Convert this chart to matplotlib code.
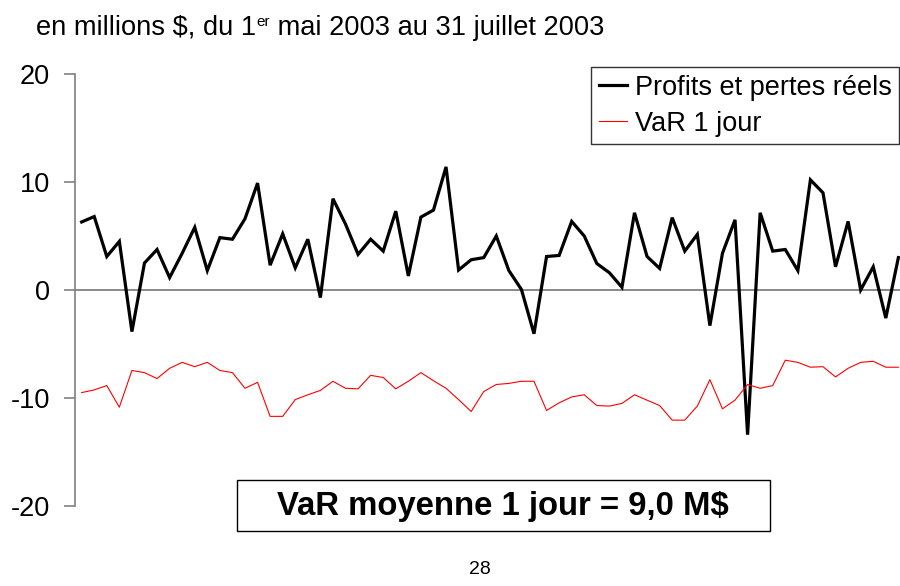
import matplotlib
matplotlib.use("Agg")
import matplotlib.pyplot as plt
from matplotlib.patches import Rectangle
import numpy as np

plt.rcParams['font.family'] = ['Liberation Sans', 'DejaVu Sans']

# Daily actual profits and losses (M$), 1 May 2003 - 31 July 2003
pnl = [6.3, 6.8, 3.1, 4.5, -3.85, 2.5, 3.75, 1.15, 3.4, 5.8, 1.8, 4.85, 4.7, 6.6, 9.9,
       2.3, 5.2, 2.05, 4.7, -0.7, 8.45, 6.1, 3.3, 4.7, 3.6, 7.3, 1.3, 6.75, 7.4, 11.4,
       1.85, 2.8, 3.0, 5.0, 1.8, 0.05, -4.05, 3.1, 3.2, 6.35, 5.0, 2.45, 1.6, 0.25,
       7.15, 3.1, 2.0, 6.7, 3.6, 5.15, -3.3, 3.4, 6.5, -13.4, 7.15, 3.6, 3.75, 1.8,
       10.2, 9.0, 2.15, 6.35, 0.0, 2.15, -2.6, 3.0]
# Daily 1-day VaR (M$)
var1 = [-9.5, -9.25, -8.85, -10.85, -7.45, -7.65, -8.2, -7.25, -6.7, -7.1, -6.7, -7.45,
        -7.65, -9.1, -8.55, -11.7, -11.7, -10.15, -9.7, -9.3, -8.45, -9.1, -9.15, -7.9,
        -8.1, -9.15, -8.45, -7.65, -8.4, -9.1, -10.15, -11.25, -9.4, -8.75, -8.65,
        -8.45, -8.45, -11.15, -10.45, -9.9, -9.7, -10.7, -10.75, -10.5, -9.7, -10.2,
        -10.7, -12.05, -12.05, -10.75, -8.3, -11.0, -10.2, -8.75, -9.1, -8.85, -6.5,
        -6.7, -7.15, -7.1, -8.05, -7.25, -6.7, -6.6, -7.15, -7.15]

yticks = [-20, -10, 0, 10, 20]
title_parts = ["en millions $, du 1", "er", " mai 2003 au 31 juillet 2003"]
label_pnl = "Profits et pertes réels"
label_var = "VaR 1 jour"
box_text = "VaR moyenne 1 jour = 9,0 M$"
page_no = "28"

W, H = 900, 586
fig = plt.figure(figsize=(W / 100, H / 100), dpi=100)
ax = fig.add_axes([75 / W, (H - 506) / H, (900 - 75) / W, (506 - 74) / H])

x = np.arange(len(pnl))
ax.plot(x, pnl, color='black', lw=2.3, label=label_pnl, solid_joinstyle='miter')
ax.plot(x, var1, color='#ff0000', lw=0.8, label=label_var)
ax.axhline(0, color='#808080', lw=1.3, zorder=0)

ax.set_xlim(-0.53, 65.13)
ax.set_ylim(-20, 20)
ax.set_yticks(yticks)
ax.set_yticklabels([str(t) for t in yticks])
ax.tick_params(axis='y', direction='out', length=8, width=1.2, color='#808080',
               labelsize=19.5, pad=10)
ax.set_xticks([])
for s in ['top', 'right', 'bottom']:
    ax.spines[s].set_visible(False)
ax.spines['left'].set_color('#808080')
ax.spines['left'].set_linewidth(1.2)

leg = ax.legend(loc='upper right', bbox_to_anchor=(1.0 - 1 / 825, 1.0 + 7 / 432),
                fontsize=19.5, frameon=True, fancybox=False, handlelength=1.05,
                handletextpad=0.28, borderpad=0.28, labelspacing=0.38,
                borderaxespad=0.0)
leg.get_frame().set_edgecolor('black')
leg.get_frame().set_linewidth(1.0)

# Title built from pieces so that "er" is a small superscript
renderer = fig.canvas.get_renderer()
base_y = 1 - 35 / H
xpos = 36
sizes = [19.6, 11, 19.6]
raises = [0, 9, 0]
for part, fs, rz in zip(title_parts, sizes, raises):
    t = fig.text(xpos / W, base_y + rz / H, part, fontsize=fs, ha='left',
                 va='baseline')
    bb = t.get_window_extent(renderer=renderer)
    xpos += bb.width

fig.patches.append(Rectangle((237 / W, 1 - 531 / H), (770 - 237) / W, (531 - 480) / H,
                             transform=fig.transFigure, fill=False, edgecolor='black',
                             lw=1.0))
fig.text(503 / W, 1 - 506 / H, box_text, fontsize=23.7, fontweight='bold',
         ha='center', va='center')
fig.text(480 / W, 1 - 569 / H, page_no, fontsize=14, ha='center', va='center')

fig.savefig('out.png', dpi=100)
